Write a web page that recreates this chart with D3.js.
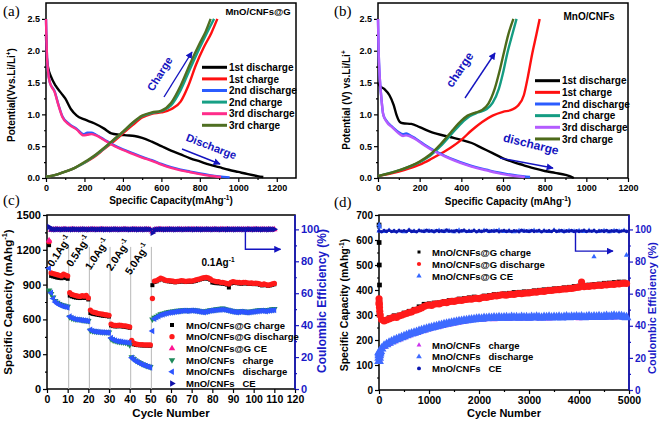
<!DOCTYPE html>
<html><head><meta charset="utf-8">
<script src="https://cdn.jsdelivr.net/npm/d3@7"></script>
<style>body{margin:0;background:#fff}svg{display:block}text{font-family:"Liberation Sans",Arial,sans-serif;font-weight:bold}</style>
</head><body><svg id="c" width="661" height="422"></svg>
<script>
// ---------- Panel (a) MnO/CNFs@G voltage profiles [capacity, V] ----------
const a_names = ["1st discharge","1st charge","2nd discharge","2nd charge","3rd discharge","3rd charge"];
const a_dis1 = [[0,2.25],[4,1.9],[12,1.72],[25,1.6],[50,1.45],[80,1.33],[100,1.25],[130,1.08],[160,0.98],[200,0.92],[250,0.86],[300,0.78],[340,0.7],[380,0.68],[420,0.67],[460,0.66],[500,0.63],[550,0.57],[600,0.5],[650,0.43],[700,0.37],[750,0.31],[800,0.26],[850,0.21],[900,0.17],[950,0.13],[1000,0.095],[1050,0.06],[1100,0.03],[1130,0.015]];
const a_ch1 = [[0,0.02],[50,0.05],[100,0.1],[150,0.16],[200,0.24],[250,0.33],[300,0.45],[350,0.57],[400,0.7],[450,0.83],[500,0.95],[550,1.01],[600,1.03],[650,1.08],[700,1.2],[740,1.45],[780,1.78],[820,2.05],[860,2.28],[891,2.5]];
const a_dis2 = [[0,2.5],[4,2.0],[10,1.7],[20,1.5],[45,1.36],[65,1.15],[85,0.97],[120,0.85],[160,0.77],[195,0.69],[215,0.71],[235,0.71],[260,0.68],[300,0.61],[350,0.52],[400,0.45],[450,0.39],[500,0.33],[550,0.28],[600,0.22],[650,0.17],[700,0.13],[750,0.1],[800,0.07],[850,0.045],[900,0.025],[955,0.01]];
const a_ch2 = [[0,0.02],[50,0.05],[100,0.1],[150,0.16],[200,0.24],[250,0.34],[300,0.46],[350,0.59],[400,0.72],[450,0.86],[500,0.97],[550,1.02],[600,1.05],[650,1.14],[700,1.38],[750,1.72],[800,2.05],[840,2.3],[874,2.5]];
const a_dis3 = [[0,2.5],[4,2.0],[10,1.7],[20,1.5],[45,1.35],[65,1.14],[85,0.96],[120,0.84],[160,0.76],[195,0.67],[215,0.68],[235,0.69],[260,0.67],[300,0.6],[350,0.51],[400,0.44],[450,0.38],[500,0.32],[550,0.27],[600,0.21],[650,0.16],[700,0.12],[750,0.09],[800,0.06],[850,0.035],[910,0.015]];
const a_ch3 = [[0,0.02],[50,0.05],[100,0.1],[150,0.16],[200,0.25],[250,0.35],[300,0.47],[350,0.6],[400,0.73],[450,0.87],[500,0.98],[550,1.03],[600,1.06],[650,1.18],[700,1.45],[750,1.8],[800,2.12],[830,2.3],[856,2.5]];
// ---------- Panel (b) MnO/CNFs ----------
const b_dis1 = [[0,1.5],[8,1.45],[30,1.4],[55,1.3],[75,1.15],[90,0.98],[105,0.88],[120,0.86],[160,0.85],[200,0.8],[250,0.73],[300,0.68],[350,0.64],[400,0.6],[450,0.55],[500,0.47],[550,0.39],[600,0.31],[650,0.25],[700,0.2],[750,0.15],[800,0.11],[850,0.08],[900,0.05],[920,0.03],[940,0.0]];
const b_ch1 = [[0,0.03],[50,0.06],[100,0.1],[150,0.15],[200,0.21],[250,0.29],[300,0.38],[350,0.48],[400,0.6],[450,0.75],[500,0.88],[550,0.98],[600,1.04],[640,1.07],[670,1.13],[700,1.3],[720,1.6],[740,1.95],[760,2.25],[776,2.5]];
const b_dis2 = [[0,2.5],[3,2.0],[8,1.6],[15,1.3],[25,1.0],[40,0.9],[70,0.8],[100,0.72],[120,0.69],[135,0.7],[150,0.68],[180,0.62],[220,0.53],[270,0.43],[320,0.35],[370,0.28],[420,0.22],[470,0.17],[520,0.13],[570,0.09],[620,0.06],[670,0.035],[730,0.015]];
const b_ch2 = [[0,0.03],[100,0.12],[200,0.25],[250,0.35],[300,0.5],[350,0.68],[400,0.86],[440,0.97],[480,1.03],[520,1.08],[550,1.18],[580,1.4],[600,1.65],[620,1.95],[640,2.2],[665,2.5]];
const b_dis3 = [[0,2.5],[3,2.0],[8,1.6],[15,1.3],[25,1.0],[40,0.89],[70,0.79],[100,0.7],[120,0.66],[135,0.67],[150,0.66],[180,0.61],[220,0.52],[270,0.42],[320,0.34],[370,0.27],[420,0.21],[470,0.16],[520,0.12],[570,0.08],[620,0.05],[705,0.015]];
const b_ch3 = [[0,0.03],[100,0.12],[200,0.26],[250,0.37],[300,0.53],[350,0.72],[400,0.9],[430,0.98],[470,1.03],[500,1.07],[530,1.17],[560,1.4],[585,1.7],[605,1.98],[625,2.25],[650,2.5]];
// ---------- Panel (c) rate capability, cycles 1..110 ----------
const c_cycles = d3.range(1, 111);
const c_gCh = [1240,975,970,965,960,958,955,960,958,950, 805,798,792,788,786,784,788,785,790,772, 655,648,645,642,638,635,632,630,628,625, 548,542,540,540,542,540,538,536,532,528, 395,385,380,378,377,376,375,375,374,373, 895,922,928,938,948,945,935,930,928,926, 924,920,922,925,928,926,922,924,926,925, 928,932,938,944,948,952,955,950,942,918, 915,912,912,910,908,905,900,875,910,915, 914,912,910,908,910,912,908,905,908,904, 905,903,898,893,898,894,890,893,898,903];
const c_gDis = [1270,1000,995,990,985,980,975,990,982,975, 830,815,810,805,800,798,805,800,808,785, 680,665,660,655,650,648,645,640,638,635, 560,550,548,548,550,548,545,545,540,535, 420,395,388,385,383,382,381,380,380,380, 780,930,935,945,955,950,940,935,935,932, 930,925,928,930,935,932,928,930,932,930, 935,940,945,950,955,960,962,958,950,935, 930,925,925,920,918,915,910,905,920,925, 922,920,918,915,918,920,915,912,915,910, 912,910,905,900,905,900,895,900,905,910];
const c_gCE = [93,99.6,99.8,99.9,100,99.7,99.8,100,99.9,99.6, 99.8,100,99.9,99.7,99.8,100,99.9,99.8,99.7,99.9, 99.8,99.9,100,99.8,99.7,99.9,100,99.8,99.9,99.7, 99.9,99.8,100,99.9,99.7,99.8,99.9,100,99.8,99.6, 99.7,99.9,100,99.8,99.9,99.7,99.8,100,99.9,99.8, 98.5,99.6,99.8,99.9,100,99.8,99.7,99.9,100,99.8, 99.9,99.8,99.7,99.9,100,99.8,99.9,99.7,99.8,100, 99.9,99.8,99.7,99.9,100,99.8,99.9,99.7,99.8,100, 99.9,99.8,99.7,99.9,100,99.8,99.9,99.7,99.8,100, 99.9,99.8,99.7,99.9,100,99.8,99.9,99.7,99.8,100, 99.9,99.8,99.7,99.9,100,99.8,99.9,99.7,99.8,100];
const c_cCh = [850,820,790,760,745,735,725,720,715,710, 620,610,605,600,600,598,595,592,590,588, 505,500,498,495,495,493,492,490,490,488, 430,420,415,410,408,405,402,400,395,380, 275,260,245,235,225,215,208,200,195,190, 600,615,625,635,645,650,655,660,665,668, 670,672,675,675,678,680,680,678,680,682, 680,678,675,672,670,668,672,675,680,682, 685,688,690,692,695,690,685,680,675,672, 670,668,670,672,670,668,665,668,670,672, 675,678,680,682,680,678,682,685,688,690];
const c_cDis = [1040,830,780,750,735,725,718,712,708,703, 625,612,606,600,598,595,592,590,588,585, 510,500,496,494,492,490,490,488,487,485, 440,425,418,412,410,407,404,402,400,398, 270,255,240,230,220,212,205,198,192,185, 500,605,618,628,638,642,648,652,657,660, 662,665,668,670,672,675,674,672,675,676, 674,672,670,666,664,662,666,670,674,676, 678,680,682,684,686,682,678,674,670,666, 664,662,664,666,664,662,660,662,664,666, 668,670,672,674,672,670,674,676,678,680];
const c_cCE = [101.5,100.2,100,99.9,100.1,100,99.9,100,100.1,100, 100,99.9,100.1,100,100,99.9,100,100.1,100,99.9, 100,100.1,100,99.9,100,100,100.1,99.9,100,100, 99.9,100,100.1,100,99.9,100,100,100.1,100,99.9, 100,100.1,100,99.9,100,100,99.9,100.1,100,100, 97.8,99.6,99.9,100,100.1,100,99.9,100,100,100.1, 100,99.9,100,100.1,100,99.9,100,100,100.1,100, 99.9,100,100.1,100,99.9,100,100,100.1,100,99.9, 100,100.1,100,99.9,100,100,99.9,100.1,100,100, 99.9,100,100.1,100,99.9,100,100,100.1,100,99.9, 100,100.1,100,99.9,100,100,99.9,100.1,100,100];
const c_rateCycles = [10.5, 20.5, 30.5, 40.5, 50.5];
const c_rateText = ["0.1", "0.5", "1.0", "2.0", "5.0"];
const c_rateLabelCycle = [7.3, 16.5, 25.6, 35.8, 45];
const c_names = ["MnO/CNFs@G charge","MnO/CNFs@G discharge","MnO/CNFs@G CE","MnO/CNFs   charge","MnO/CNFs   discharge","MnO/CNFs   CE"];
// ---------- Panel (d) long cycling ----------
const d_cyc50 = d3.range(1, 5000, 50);
const d_cyc100 = d3.range(1, 5000, 100);
const d_gDis = [345,282,276,280,284,288,292,290,296,299, 303,306,310,312,318,320,324,328,334,338, 340,338,343,345,344,348,350,349,353,355, 354,357,359,358,361,362,364,363,366,367, 365,369,371,370,373,374,377,376,378,381, 380,379,382,383,382,385,386,385,387,388, 388,390,392,391,394,395,394,397,398,398, 400,401,401,403,404,404,406,406,408,410, 411,432,413,415,414,417,416,418,419,418, 421,420,422,423,422,425,424,426,427,426];
const d_gCh = [300,281,289,297,300,308,315,323,333,343, 345,348,349,354,358,359,364,366,369,372, 370,376,378,382,383,385,387,390,391,393, 393,397,399,401,403,405,406,409,411,414, 416,419,420,422,424,427,428,430,432,432];
const d_cDis = [150,165,176,182,188,193,198,202,206,210, 214,218,222,225,228,231,235,238,241,244, 247,249,252,254,257,259,262,264,266,268, 270,272,274,275,277,278,280,281,282,284, 285,284,287,286,288,287,289,288,290,288, 289,290,288,291,289,290,288,291,289,290, 288,291,289,292,290,288,291,290,292,289, 291,290,292,289,291,293,290,292,291,293, 291,293,290,292,294,291,293,292,294,291, 293,295,292,294,296,293,295,294,292,290];
const d_cCh = [140,172,184,194,202,210,218,224,231,237, 243,248,253,258,262,266,270,273,277,280, 281,282,284,283,285,286,284,287,285,286, 285,288,286,287,286,288,289,288,289,289, 287,289,290,289,290,289,291,290,292,288];
const d_gCE = [99.1,98.7,99.3,98.9,99.0,98.6,99.4,98.8,99.2,98.9, 99.0,98.7,99.3,98.8,99.1,98.6,99.4,99.0,98.8,99.2, 98.9,99.3,98.7,99.0,99.4,98.8,99.1,98.6,99.2,99.0, 98.8,99.3,98.9,99.1,98.7,99.4,99.0,98.8,99.2,98.9, 99.1,98.7,99.3,99.0,98.8,99.2,98.6,99.1,98.9,99.3];
const d_cCE = [99.0,98.6,99.3,98.8,99.5,98.7,99.1,98.5,99.4,98.9, 99.2,98.7,99.6,98.8,99.0,98.6,99.3,99.0,98.7,99.5, 98.9,99.2,98.6,99.4,98.8,99.1,98.7,99.6,98.9,99.0, 98.8,99.3,98.6,99.1,99.5,98.7,99.0,98.9,99.4,98.6, 99.2,98.8,99.0,99.5,98.7,99.1,98.9,99.3,98.6,99.0, 99.4,98.8,99.1,98.7,99.2,99.0,98.6,99.5,98.9,99.1, 98.7,99.3,98.8,99.0,99.4,98.6,99.2,98.9,99.1,98.7, 99.5,98.8,99.0,99.3,98.6,99.1,98.9,99.4,98.7,99.2, 98.8,99.0,99.5,98.7,99.1,98.9,99.3,98.6,99.0,99.2, 98.8,99.4,98.7,99.1,98.9,99.3,98.6,99.0,99.2,98.8];
const d_earlyCyc = [1, 3, 6, 10, 15, 25];
const d_earlyGCh = [660, 590, 500, 420, 360, 310];
const d_earlyGDis = [365, 352, 342, 330, 315, 300];
const d_earlyCDis = [115, 128, 138, 145, 150, 155];
const d_earlyCCh = [112, 122, 132, 140, 146, 150];
const d_ceOutCyc = [5, 12, 4300, 4950];
const d_ceOut = [103, 101.5, 83, 84];
const d_names1 = ["MnO/CNFs@G charge","MnO/CNFs@G discharge","MnO/CNFs@G CE"];
const d_names2 = ["MnO/CNFs   charge","MnO/CNFs   discharge","MnO/CNFs   CE"];

// ---------- drawing ----------
const svg = d3.select('#c');
const FONT = '"Liberation Sans", Arial, sans-serif';
const SERIF = '"Liberation Serif", "DejaVu Serif", serif';
const AXBLUE = '#1a1ac8', ARROW = '#1414c0';
const defs = svg.append('defs');
defs.append('marker').attr('id','ah').attr('viewBox','0 0 10 10').attr('refX',9).attr('refY',5)
  .attr('markerWidth',5).attr('markerHeight',5).attr('orient','auto').attr('markerUnits','strokeWidth')
  .append('path').attr('d','M0,0L10,5L0,10Z').attr('fill',ARROW);

function txt(x, y, segs, o) {
  o = o || {};
  const size = o.size || 10;
  const t = svg.append('text').attr('transform', `translate(${x},${y}) rotate(${o.rot||0})`)
    .attr('text-anchor', o.anchor || 'middle').attr('font-size', size).attr('fill', o.color || '#000')
    .style('white-space', 'pre');
  if (o.family) t.style('font-family', o.family).style('font-weight', o.weight || 'normal');
  let up = false;
  segs.forEach(s => {
    if (typeof s === 'string') {
      const sp = t.append('tspan').text(s);
      if (up) { sp.attr('dy', size * 0.4); up = false; }
    } else {
      t.append('tspan').attr('font-size', size * 0.65).attr('dy', -size * 0.4).text(s.sup);
      up = true;
    }
  });
  return t;
}

function drawAxes(o) {
  const g = svg.append('g');
  const [x0, x1] = o.x.range(), [y0, y1] = o.y.range();
  const style = (sel, col, fs) => {
    sel.attr('font-size', fs);
    sel.selectAll('.domain').remove();
    sel.selectAll('.tick line').attr('stroke', col).attr('stroke-width', 1.2);
    sel.selectAll('.tick text').attr('fill', col);
  };
  const mk = (axisFn, scale, vals, size, fmt, pad, tr, col, fs) => {
    const s = g.append('g').attr('transform', tr)
      .call(axisFn(scale).tickValues(vals).tickSize(size).tickPadding(pad).tickFormat(fmt));
    style(s, col, fs);
  };
  const none = () => '';
  if (o.xMinor) mk(d3.axisBottom, o.x, o.xMinor, 2, none, 2, `translate(0,${y0})`, '#000', o.fs);
  mk(d3.axisBottom, o.x, o.xTicks, 4, o.xFmt, o.xPad || 3, `translate(0,${y0})`, '#000', o.xfs || o.fs);
  if (o.yMinor) mk(d3.axisLeft, o.y, o.yMinor, 2, none, 2, `translate(${x0},0)`, '#000', o.fs);
  mk(d3.axisLeft, o.y, o.yTicks, 4, o.yFmt, o.yPad || 2, `translate(${x0},0)`, '#000', o.fs);
  if (o.yR) {
    if (o.yRMinor) mk(d3.axisRight, o.yR, o.yRMinor, 2, none, 2, `translate(${x1},0)`, AXBLUE, o.fs);
    mk(d3.axisRight, o.yR, o.yRTicks, 4, o.yRFmt, 2, `translate(${x1},0)`, AXBLUE, o.fs);
  }
  g.append('rect').attr('x', x0).attr('y', y1).attr('width', x1 - x0).attr('height', y0 - y1)
    .attr('fill', 'none').attr('stroke', '#000').attr('stroke-width', 1.5);
  if (o.yR) g.append('line').attr('x1', x1).attr('x2', x1).attr('y1', y0).attr('y2', y1)
    .attr('stroke', AXBLUE).attr('stroke-width', 1.6);
}

function curves(x, y, series, colors) {
  const line = d3.line().x(d => x(d[0])).y(d => y(d[1])).curve(d3.curveMonotoneX);
  series.forEach((s, i) => svg.append('path').attr('d', line(s)).attr('fill', 'none')
    .attr('stroke', colors[i]).attr('stroke-width', 2.4).attr('stroke-linejoin', 'round'));
}

function arrow(points) {
  svg.append('path').attr('d', d3.line()(points)).attr('fill', 'none').attr('stroke', ARROW)
    .attr('stroke-width', 1.4).attr('marker-end', 'url(#ah)');
}

// ===== (a) =====
{
  const x = d3.scaleLinear([0, 1300], [46, 296]);
  const y = d3.scaleLinear([0, 2.75], [178, 3]);
  drawAxes({x, y, xTicks: d3.range(0, 1201, 200), xMinor: d3.range(100, 1300, 200), xFmt: d3.format('d'),
    yTicks: d3.range(0, 2.51, 0.5), yMinor: d3.range(0.25, 2.6, 0.5), yFmt: d3.format('.1f'), fs: 9});
  const cols = ['#000000', '#ff1010', '#2b5cff', '#17a085', '#ff2d8a', '#4f6f22'];
  curves(x, y, [a_dis1, a_ch1, a_dis2, a_ch2, a_dis3, a_ch3], cols);
  a_names.forEach((n, i) => {
    const yy = 67.3 + i * 11.6;
    svg.append('line').attr('x1', 202).attr('x2', 227).attr('y1', yy).attr('y2', yy).attr('stroke', cols[i]).attr('stroke-width', 3);
    txt(229, yy + 3.6, [n], {anchor: 'start', size: 10});
  });
  txt(258, 15, ['MnO/CNFs@G'], {size: 9.5});
  arrow([[164, 97], [192, 52]]);
  txt(163, 76, ['Charge'], {size: 11, rot: -58, color: ARROW});
  arrow([[182, 149], [220, 164]]);
  txt(210, 150, ['Discharge'], {size: 11, rot: 21, color: ARROW});
  txt(171, 204, ['Specific Capacity(mAhg', {sup: '-1'}, ')'], {size: 10});
  txt(15, 95, ['Potential(Vvs.Li/Li', {sup: '+'}, ')'], {size: 10, rot: -90});
  txt(3, 16, ['(a)'], {anchor: 'start', size: 15, family: SERIF});
}
// ===== (b) =====
{
  const x = d3.scaleLinear([0, 1200], [378, 628]);
  const y = d3.scaleLinear([0, 2.75], [178, 3]);
  drawAxes({x, y, xTicks: d3.range(0, 1201, 200), xMinor: d3.range(100, 1200, 200), xFmt: d3.format('d'),
    yTicks: d3.range(0, 2.51, 0.5), yMinor: d3.range(0.25, 2.6, 0.5), yFmt: d3.format('.1f'), fs: 9});
  const cols = ['#000000', '#ff1010', '#2b5cff', '#149c82', '#b45cff', '#4d6a1a'];
  curves(x, y, [b_dis1, b_ch1, b_dis2, b_ch2, b_dis3, b_ch3], cols);
  a_names.forEach((n, i) => {
    const yy = 80.7 + i * 11.65;
    svg.append('line').attr('x1', 535).attr('x2', 560).attr('y1', yy).attr('y2', yy).attr('stroke', cols[i]).attr('stroke-width', 3);
    txt(562, yy + 3.6, [n], {anchor: 'start', size: 10});
  });
  txt(589, 20, ['MnO/CNFs'], {size: 10});
  arrow([[465, 98], [495, 53]]);
  txt(463, 72, ['charge'], {size: 12, rot: -56, color: ARROW});
  arrow([[500, 158], [553, 168]]);
  txt(530, 148, ['discharge'], {size: 12, rot: 14, color: ARROW});
  txt(508, 205, ['Specific Capacity (mAhg', {sup: '-1'}, ')'], {size: 10});
  txt(350, 100, ['Potential (V) vs.Li/Li', {sup: '+'}], {size: 10, rot: -90});
  txt(334, 16, ['(b)'], {anchor: 'start', size: 15, family: SERIF});
  txt(3, 205, ['(c)'], {anchor: 'start', size: 15, family: SERIF});
  txt(334, 207, ['(d)'], {anchor: 'start', size: 15, family: SERIF});
}
function sym(type, size, rot) {
  return {p: d3.symbol().type(type).size(size)(), rot: rot || 0};
}
function scatter(xs, ys, xv, yv, s, color) {
  const g = svg.append('g');
  xv.forEach((c, i) => {
    g.append('path').attr('d', s.p).attr('fill', color)
      .attr('transform', `translate(${xs(c)},${ys(yv[i])}) rotate(${s.rot})`);
  });
}
// ===== (c) =====
{
  const x = d3.scaleLinear([0, 120], [47, 295]);
  const y = d3.scaleLinear([0, 1500], [389, 215]);
  const yR = d3.scaleLinear([0, 109], [389, 215]);
  drawAxes({x, y, yR, xTicks: d3.range(0, 121, 10), xFmt: d3.format('d'), xfs: 10.5,
    yTicks: d3.range(0, 1501, 300), yMinor: d3.range(150, 1500, 300), yFmt: d3.format('d'),
    yRTicks: d3.range(0, 101, 20), yRMinor: d3.range(10, 110, 20), yRFmt: d3.format('d'), fs: 11});
  c_rateCycles.forEach(c => svg.append('line').attr('x1', x(c)).attr('x2', x(c)).attr('y1', y(0)).attr('y2', y(1225))
    .attr('stroke', '#b8b8b8').attr('stroke-width', 1));
  const S = {
    sq: sym(d3.symbolSquare, 16), ci: sym(d3.symbolCircle, 22), up: sym(d3.symbolTriangle, 18),
    dn: sym(d3.symbolTriangle, 18, 180), lf: sym(d3.symbolTriangle, 18, -90), rt: sym(d3.symbolTriangle, 18, 90)
  };
  const cols = ['#000000', '#ff1a1a', '#ff1493', '#1e8a5a', '#2d55ff', '#1010a8'];
  scatter(x, y, c_cycles, c_gCh, S.sq, cols[0]);
  scatter(x, y, c_cycles, c_gDis, S.ci, cols[1]);
  scatter(x, y, c_cycles, c_cCh, S.dn, cols[3]);
  scatter(x, y, c_cycles, c_cDis, S.lf, cols[4]);
  scatter(x, yR, c_cycles, c_gCE, S.up, cols[2]);
  scatter(x, yR, c_cycles, c_cCE, S.rt, cols[5]);
  c_rateText.forEach((t, i) => txt(x(c_rateLabelCycle[i]), 253 + [0, 0, 3, 4, 8][i], [t + 'Ag', {sup: '-1'}], {size: 10.5, rot: -57}));
  txt(218, 266, ['0.1Ag', {sup: '-1'}], {size: 10});
  arrow([[x(96), yR(100)], [x(96), yR(87.5)], [x(113), yR(87.5)]]);
  const ls = [S.sq, S.ci, S.up, S.dn, S.lf, S.rt];
  c_names.forEach((n, i) => {
    const yy = 325 + i * 11.7;
    svg.append('path').attr('d', ls[i].p).attr('fill', cols[i]).attr('transform', `translate(172,${yy}) rotate(${ls[i].rot})`);
    txt(186, yy + 3.5, [n], {anchor: 'start', size: 9.5});
  });
  txt(171, 417, ['Cycle Number'], {size: 11.5});
  txt(12, 302, ['Specific Capacity (mAhg', {sup: '-1'}, ')'], {size: 11.5, rot: -90});
  txt(326, 301, ['Coulombic Efficiency (%)'], {size: 12, rot: -90, color: AXBLUE});
}
// ===== (d) =====
{
  const x = d3.scaleLinear([0, 5000], [379, 629]);
  const y = d3.scaleLinear([0, 700], [390, 215]);
  const yR = d3.scaleLinear([0, 109], [390, 215]);
  drawAxes({x, y, yR, xTicks: d3.range(0, 5001, 1000), xMinor: d3.range(500, 5000, 1000), xFmt: d3.format('d'), xfs: 10.5,
    yTicks: d3.range(0, 701, 100), yMinor: d3.range(50, 700, 100), yFmt: d3.format('d'),
    yRTicks: d3.range(0, 101, 20), yRMinor: d3.range(10, 110, 20), yRFmt: d3.format('d'), fs: 10});
  const S = {
    sq: sym(d3.symbolSquare, 22), ci: sym(d3.symbolCircle, 40), up: sym(d3.symbolTriangle, 12),
    pk: sym(d3.symbolTriangle, 22), bl: sym(d3.symbolTriangle, 42), ce: sym(d3.symbolCircle, 10)
  };
  const L = {sq: sym(d3.symbolSquare, 9), ci: sym(d3.symbolCircle, 14), up: sym(d3.symbolTriangle, 12),
    pk: sym(d3.symbolTriangle, 10), bl: sym(d3.symbolTriangle, 14), ce: sym(d3.symbolCircle, 12)};
  const cols = ['#000000', '#ff1a1a', '#3366ff', '#cc33ee', '#3f6bff', '#0c18b0'];
  scatter(x, y, d_cyc100, d_gCh, S.sq, cols[0]);
  scatter(x, y, d_earlyCyc, d_earlyGCh, S.sq, cols[0]);
  scatter(x, y, d_cyc50, d_gDis, S.ci, cols[1]);
  scatter(x, y, d_earlyCyc, d_earlyGDis, S.ci, cols[1]);
  scatter(x, y, d_cyc100, d_cCh, S.pk, cols[3]);
  scatter(x, y, d_earlyCyc, d_earlyCCh, S.pk, cols[3]);
  scatter(x, y, d_cyc50, d_cDis, S.bl, cols[4]);
  scatter(x, y, d_earlyCyc, d_earlyCDis, S.bl, cols[4]);
  scatter(x, yR, d_cyc100, d_gCE, S.up, cols[2]);
  scatter(x, yR, d_cyc50, d_cCE, S.ce, cols[5]);
  scatter(x, yR, d_ceOutCyc, d_ceOut, S.up, cols[2]);
  arrow([[x(3930), yR(99)], [x(3930), yR(86.5)], [x(4680), yR(86.5)]]);
  const ls1 = [L.sq, L.ci, L.up], ls2 = [L.pk, L.bl, L.ce];
  d_names1.forEach((n, i) => {
    const yy = 252 + i * 12;
    svg.append('path').attr('d', ls1[i].p).attr('fill', cols[i]).attr('transform', `translate(419,${yy})`);
    txt(432, yy + 3.5, [n], {anchor: 'start', size: 9.5});
  });
  d_names2.forEach((n, i) => {
    const yy = 345 + i * 11.7;
    svg.append('path').attr('d', ls2[i].p).attr('fill', cols[3 + i]).attr('transform', `translate(419,${yy})`);
    txt(432, yy + 3.5, [n], {anchor: 'start', size: 9.5});
  });
  txt(504, 417, ['Cycle Number'], {size: 11});
  txt(348, 305, ['Specific Capacity (mAhg', {sup: '-1'}, ')'], {size: 10.5, rot: -90});
  txt(656, 308, ['Coulombic Efficiency (%)'], {size: 11, rot: -90, color: AXBLUE});
}
</script></body></html>
